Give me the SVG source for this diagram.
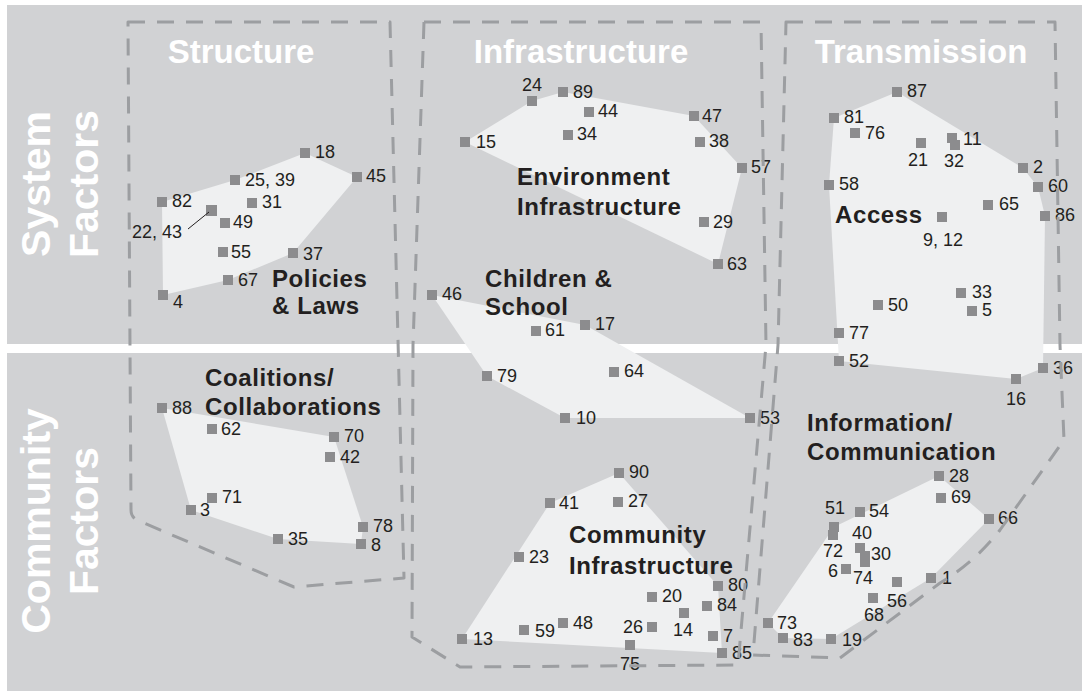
<svg xmlns="http://www.w3.org/2000/svg" width="1082" height="691" viewBox="0 0 1082 691">
<style>
.bg{fill:#d1d2d4}
.poly{fill:#eff0f1}
.m{fill:#8c8c8e}
.n{font-family:"Liberation Sans",Arial,sans-serif;font-size:18px;fill:#231f20}
.b{font-family:"Liberation Sans",Arial,sans-serif;font-size:24px;font-weight:bold;fill:#231f20;letter-spacing:0.6px}
.t{font-family:"Liberation Sans",Arial,sans-serif;font-size:33px;font-weight:bold;fill:#ffffff;text-anchor:middle}
.s{font-family:"Liberation Sans",Arial,sans-serif;font-size:41px;font-weight:bold;fill:#ffffff;text-anchor:middle}
.d{fill:none;stroke:#9c9ea1;stroke-width:3;stroke-dasharray:17 12;stroke-linejoin:round}
</style>
<rect width="1082" height="691" fill="#ffffff"/>
<rect class="bg" x="7" y="5" width="1075" height="339"/>
<rect class="bg" x="7" y="353" width="1075" height="338"/>

<g id="side-labels">
<text class="s" transform="translate(50,184) rotate(-90)">System</text>
<text class="s" transform="translate(98,184) rotate(-90)">Factors</text>
<text class="s" transform="translate(50,521) rotate(-90)">Community</text>
<text class="s" transform="translate(98,521) rotate(-90)">Factors</text>
</g>

<g id="cluster-policies">
<polygon class="poly" points="162,202 235,180 305,153 357,177 293,253 228,280 163,295"/>
<rect class="m" x="300" y="148" width="10" height="10"/><text class="n" x="315" y="158">18</text>
<rect class="m" x="352" y="172" width="10" height="10"/><text class="n" x="366" y="182">45</text>
<rect class="m" x="230" y="175" width="10" height="10"/><text class="n" x="245" y="186">25, 39</text>
<rect class="m" x="157" y="197" width="10" height="10"/><text class="n" x="172" y="207">82</text>
<rect class="m" x="247" y="198" width="10" height="10"/><text class="n" x="262" y="208">31</text>
<rect class="m" x="206" y="205" width="11" height="11"/><text class="n" x="132" y="238">22, 43</text>
<rect class="m" x="220" y="218" width="10" height="10"/><text class="n" x="233" y="228">49</text>
<rect class="m" x="218" y="247" width="10" height="10"/><text class="n" x="231" y="258">55</text>
<rect class="m" x="288" y="248" width="10" height="10"/><text class="n" x="303" y="260">37</text>
<rect class="m" x="223" y="275" width="10" height="10"/><text class="n" x="238" y="286">67</text>
<rect class="m" x="158" y="290" width="10" height="10"/><text class="n" x="173" y="308">4</text>
<text class="b" x="272" y="287">Policies</text>
<text class="b" x="272" y="314">&amp; Laws</text>
</g>

<g id="cluster-environment">
<polygon class="poly" points="465,142 532,101 563,92 694,116 742,168 718,264"/>
<rect class="m" x="527" y="96" width="10" height="10"/><text class="n" x="522" y="91">24</text>
<rect class="m" x="558" y="87" width="10" height="10"/><text class="n" x="573" y="98">89</text>
<rect class="m" x="584" y="107" width="10" height="10"/><text class="n" x="598" y="117">44</text>
<rect class="m" x="563" y="130" width="10" height="10"/><text class="n" x="577" y="140">34</text>
<rect class="m" x="689" y="111" width="10" height="10"/><text class="n" x="702" y="122">47</text>
<rect class="m" x="695" y="137" width="10" height="10"/><text class="n" x="709" y="147">38</text>
<rect class="m" x="460" y="137" width="10" height="10"/><text class="n" x="476" y="148">15</text>
<rect class="m" x="737" y="163" width="10" height="10"/><text class="n" x="751" y="173">57</text>
<rect class="m" x="699" y="217" width="10" height="10"/><text class="n" x="713" y="228">29</text>
<rect class="m" x="713" y="259" width="10" height="10"/><text class="n" x="727" y="270">63</text>
<text class="b" x="517" y="185">Environment</text>
<text class="b" x="517" y="215">Infrastructure</text>
</g>

<g id="cluster-children">
<polygon class="poly" points="432,295 585,325 750,418 565,418 487,376"/>
<rect class="m" x="427" y="290" width="10" height="10"/><text class="n" x="442" y="300">46</text>
<rect class="m" x="531" y="326" width="10" height="10"/><text class="n" x="545" y="336">61</text>
<rect class="m" x="580" y="320" width="10" height="10"/><text class="n" x="595" y="330">17</text>
<rect class="m" x="482" y="371" width="10" height="10"/><text class="n" x="497" y="382">79</text>
<rect class="m" x="609" y="367" width="10" height="10"/><text class="n" x="624" y="377">64</text>
<rect class="m" x="560" y="413" width="10" height="10"/><text class="n" x="576" y="424">10</text>
<rect class="m" x="745" y="413" width="10" height="10"/><text class="n" x="760" y="424">53</text>
<text class="b" x="485" y="287">Children &amp;</text>
<text class="b" x="485" y="315">School</text>
</g>

<g id="cluster-access">
<polygon class="poly" points="834,118 897,92 1023,168 1038,187 1045,216 1043,368 1016,379 839,361 829,185"/>
<rect class="m" x="892" y="87" width="10" height="10"/><text class="n" x="907" y="97">87</text>
<rect class="m" x="829" y="113" width="10" height="10"/><text class="n" x="844" y="123">81</text>
<rect class="m" x="850" y="128" width="10" height="10"/><text class="n" x="865" y="139">76</text>
<rect class="m" x="916" y="138" width="10" height="10"/><text class="n" x="908" y="166">21</text>
<rect class="m" x="947" y="133" width="10" height="10"/><text class="n" x="963" y="145">11</text>
<rect class="m" x="950" y="140" width="10" height="10"/><text class="n" x="944" y="167">32</text>
<rect class="m" x="1018" y="163" width="10" height="10"/><text class="n" x="1033" y="173">2</text>
<rect class="m" x="1033" y="182" width="10" height="10"/><text class="n" x="1048" y="192">60</text>
<rect class="m" x="824" y="180" width="10" height="10"/><text class="n" x="839" y="190">58</text>
<rect class="m" x="983" y="200" width="10" height="10"/><text class="n" x="999" y="210">65</text>
<rect class="m" x="1040" y="211" width="10" height="10"/><text class="n" x="1055" y="221">86</text>
<rect class="m" x="937" y="212" width="10" height="10"/><text class="n" x="923" y="246">9, 12</text>
<rect class="m" x="956" y="288" width="10" height="10"/><text class="n" x="972" y="298">33</text>
<rect class="m" x="967" y="306" width="10" height="10"/><text class="n" x="982" y="316">5</text>
<rect class="m" x="873" y="300" width="10" height="10"/><text class="n" x="888" y="311">50</text>
<rect class="m" x="834" y="328" width="10" height="10"/><text class="n" x="849" y="339">77</text>
<rect class="m" x="834" y="356" width="10" height="10"/><text class="n" x="849" y="367">52</text>
<rect class="m" x="1011" y="374" width="10" height="10"/><text class="n" x="1006" y="405">16</text>
<rect class="m" x="1038" y="363" width="10" height="10"/><text class="n" x="1053" y="374">36</text>
<text class="b" x="835" y="223">Access</text>
</g>

<g id="cluster-coalitions">
<polygon class="poly" points="162,408 334,437 363,527 361,544 278,539 191,510"/>
<rect class="m" x="157" y="403" width="10" height="10"/><text class="n" x="172" y="414">88</text>
<rect class="m" x="207" y="424" width="10" height="10"/><text class="n" x="221" y="435">62</text>
<rect class="m" x="329" y="432" width="10" height="10"/><text class="n" x="344" y="442">70</text>
<rect class="m" x="325" y="452" width="10" height="10"/><text class="n" x="340" y="463">42</text>
<rect class="m" x="207" y="493" width="10" height="10"/><text class="n" x="222" y="503">71</text>
<rect class="m" x="186" y="505" width="10" height="10"/><text class="n" x="200" y="516">3</text>
<rect class="m" x="273" y="534" width="10" height="10"/><text class="n" x="288" y="545">35</text>
<rect class="m" x="358" y="522" width="10" height="10"/><text class="n" x="373" y="532">78</text>
<rect class="m" x="356" y="539" width="10" height="10"/><text class="n" x="371" y="551">8</text>
<text class="b" x="205" y="386">Coalitions/</text>
<text class="b" x="205" y="415">Collaborations</text>
</g>

<g id="cluster-community-infrastructure">
<polygon class="poly" points="619,473 718,586 722,653 462,639 550,503"/>
<rect class="m" x="614" y="468" width="10" height="10"/><text class="n" x="629" y="478">90</text>
<rect class="m" x="545" y="498" width="10" height="10"/><text class="n" x="559" y="509">41</text>
<rect class="m" x="613" y="497" width="10" height="10"/><text class="n" x="628" y="507">27</text>
<rect class="m" x="514" y="552" width="10" height="10"/><text class="n" x="529" y="563">23</text>
<rect class="m" x="713" y="581" width="10" height="10"/><text class="n" x="728" y="591">80</text>
<rect class="m" x="647" y="592" width="10" height="10"/><text class="n" x="662" y="602">20</text>
<rect class="m" x="702" y="601" width="10" height="10"/><text class="n" x="717" y="611">84</text>
<rect class="m" x="679" y="608" width="10" height="10"/><text class="n" x="673" y="636">14</text>
<rect class="m" x="647" y="622" width="10" height="10"/><text class="n" x="623" y="633">26</text>
<rect class="m" x="558" y="618" width="10" height="10"/><text class="n" x="573" y="629">48</text>
<rect class="m" x="519" y="625" width="10" height="10"/><text class="n" x="535" y="637">59</text>
<rect class="m" x="457" y="634" width="10" height="10"/><text class="n" x="473" y="645">13</text>
<rect class="m" x="708" y="631" width="10" height="10"/><text class="n" x="723" y="642">7</text>
<rect class="m" x="625" y="640" width="10" height="10"/><text class="n" x="620" y="670">75</text>
<rect class="m" x="717" y="648" width="10" height="10"/><text class="n" x="732" y="659">85</text>
<text class="b" x="569" y="543">Community</text>
<text class="b" x="569" y="574">Infrastructure</text>
</g>

<g id="cluster-information">
<polygon class="poly" points="939,476 989,519 931,578 831,639 783,638 768,623 834,527"/>
<rect class="m" x="934" y="471" width="10" height="10"/><text class="n" x="949" y="482">28</text>
<rect class="m" x="936" y="493" width="10" height="10"/><text class="n" x="951" y="503">69</text>
<rect class="m" x="984" y="514" width="10" height="10"/><text class="n" x="998" y="524">66</text>
<rect class="m" x="829" y="522" width="10" height="10"/><text class="n" x="825" y="514">51</text>
<rect class="m" x="855" y="507" width="10" height="10"/><text class="n" x="869" y="517">54</text>
<rect class="m" x="828" y="530" width="10" height="10"/><text class="n" x="823" y="557">72</text>
<rect class="m" x="855" y="543" width="10" height="10"/><text class="n" x="852" y="539">40</text>
<rect class="m" x="860" y="551" width="10" height="10"/><text class="n" x="871" y="560">30</text>
<rect class="m" x="860" y="557" width="10" height="10"/><text class="n" x="853" y="584">74</text>
<rect class="m" x="841" y="564" width="10" height="10"/><text class="n" x="828" y="577">6</text>
<rect class="m" x="892" y="577" width="10" height="10"/><text class="n" x="887" y="607">56</text>
<rect class="m" x="926" y="573" width="10" height="10"/><text class="n" x="942" y="584">1</text>
<rect class="m" x="868" y="593" width="10" height="10"/><text class="n" x="864" y="621">68</text>
<rect class="m" x="763" y="618" width="10" height="10"/><text class="n" x="777" y="629">73</text>
<rect class="m" x="778" y="633" width="10" height="10"/><text class="n" x="793" y="646">83</text>
<rect class="m" x="826" y="634" width="10" height="10"/><text class="n" x="842" y="646">19</text>
<text class="b" x="807" y="431">Information/</text>
<text class="b" x="807" y="460">Communication</text>
</g>

<g id="region-structure">
<path class="d" d="M128,22 L390,22 L404,578 L294,587 L137,520 Q131,517 131,510 Z"/>
<text class="t" x="241" y="63">Structure</text>
</g>
<g id="region-infrastructure">
<path class="d" d="M424,22 L761,22 L766,345 L738,665 L460,667 L412,637 L413,345 Z"/>
<text class="t" x="581" y="63">Infrastructure</text>
</g>
<g id="region-transmission">
<path class="d" d="M786,22 L1055,22 L1060,345 L1064,440 L1000,530 Q975,562 940,583 L840,658 L753,655 L778,345 Z"/>
<text class="t" x="921" y="63">Transmission</text>
</g>

<g id="connectors">
<line x1="188" y1="229" x2="209" y2="212" stroke="#231f20" stroke-width="1"/>
</g>
</svg>
